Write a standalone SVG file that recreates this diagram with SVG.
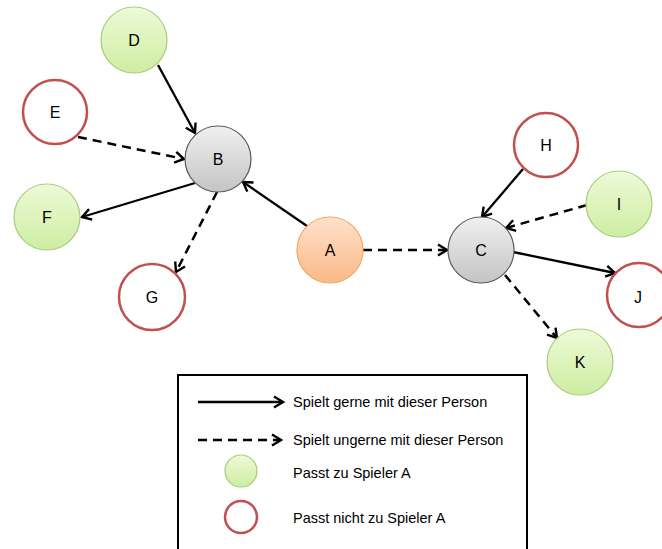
<svg xmlns="http://www.w3.org/2000/svg" width="662" height="549" viewBox="0 0 662 549">
<style>
.lbl{font-family:"Liberation Sans",Arial,sans-serif;font-size:16px;fill:#000;text-anchor:middle;dominant-baseline:central}
.lg{font-family:"Liberation Sans",Arial,sans-serif;font-size:14.5px;fill:#000}
.grey{fill:url(#gGrey);stroke:#5a5a5a;stroke-width:1.2}
.green{fill:url(#gGreen);stroke:#a9cd7c;stroke-width:1.2}
.orange{fill:url(#gOrange);stroke:#f0a868;stroke-width:1.2}
.red{fill:#fff;stroke:#c0504d;stroke-width:2.5}
.solid{stroke:#000;stroke-width:2.3;fill:none;marker-end:url(#arr)}
.dash{stroke:#000;stroke-width:2.5;fill:none;stroke-dasharray:9 6;marker-end:url(#arr)}
</style>
<defs>
<linearGradient id="gGrey" x1="0" y1="0" x2="0" y2="1"><stop offset="0" stop-color="#f0f0f0"/><stop offset="1" stop-color="#c4c4c4"/></linearGradient>
<linearGradient id="gGreen" x1="0" y1="0" x2="0" y2="1"><stop offset="0" stop-color="#eefad8"/><stop offset="1" stop-color="#cdeda2"/></linearGradient>
<linearGradient id="gOrange" x1="0" y1="0" x2="0" y2="1"><stop offset="0" stop-color="#fde2cc"/><stop offset="1" stop-color="#fbb887"/></linearGradient>
<marker id="arr" markerWidth="14" markerHeight="14" refX="11" refY="7" orient="auto" markerUnits="userSpaceOnUse">
<path d="M2,1.5 L11,7 L2,12.5" fill="none" stroke="#000" stroke-width="2.4"/>
</marker>
</defs>
<g id="connectors">
<line class="solid" x1="158" y1="65" x2="195" y2="133"/>
<line class="dash" x1="78" y1="137" x2="184" y2="159"/>
<line class="solid" x1="195" y1="183" x2="82" y2="217"/>
<line class="dash" x1="217" y1="192" x2="176" y2="272"/>
<line class="solid" x1="307" y1="226" x2="243" y2="182"/>
<line class="dash" x1="363" y1="250" x2="447" y2="250"/>
<line class="solid" x1="523" y1="169" x2="482" y2="217"/>
<line class="dash" x1="587" y1="205" x2="506" y2="228"/>
<line class="solid" x1="513" y1="252" x2="615" y2="273"/>
<line class="dash" x1="505" y1="275" x2="557" y2="338"/>
</g>
<g id="node-D"><circle class="green" cx="134" cy="40" r="33"/><text class="lbl" x="134" y="40">D</text></g>
<g id="node-E"><circle class="red" cx="55" cy="112" r="32"/><text class="lbl" x="55" y="112">E</text></g>
<g id="node-B"><circle class="grey" cx="218" cy="159" r="33"/><text class="lbl" x="218" y="159">B</text></g>
<g id="node-F"><circle class="green" cx="47" cy="217" r="33"/><text class="lbl" x="47" y="217">F</text></g>
<g id="node-G"><circle class="red" cx="152" cy="297" r="33"/><text class="lbl" x="152" y="297">G</text></g>
<g id="node-A"><circle class="orange" cx="330" cy="250" r="33"/><text class="lbl" x="330" y="250">A</text></g>
<g id="node-C"><circle class="grey" cx="481" cy="250" r="33"/><text class="lbl" x="481" y="250">C</text></g>
<g id="node-H"><circle class="red" cx="546" cy="145" r="32"/><text class="lbl" x="546" y="145">H</text></g>
<g id="node-I"><circle class="green" cx="619" cy="204" r="33"/><text class="lbl" x="619" y="204">I</text></g>
<g id="node-J"><circle class="red" cx="639" cy="295" r="32"/><text class="lbl" x="638" y="297">J</text></g>
<g id="node-K"><circle class="green" cx="580" cy="362" r="33"/><text class="lbl" x="580" y="362">K</text></g>
<g id="legend">
<rect x="178" y="375" width="349" height="190" fill="#fff" stroke="#000" stroke-width="2"/>
<line class="solid" x1="198" y1="402" x2="283" y2="402"/>
<text class="lg" x="293" y="407">Spielt gerne mit dieser Person</text>
<line class="dash" x1="198" y1="440" x2="281" y2="440"/>
<text class="lg" x="293" y="445">Spielt ungerne mit dieser Person</text>
<circle class="green" cx="241" cy="471" r="16"/>
<text class="lg" x="293" y="478">Passt zu Spieler A</text>
<circle class="red" cx="241" cy="517" r="16"/>
<text class="lg" x="293" y="523">Passt nicht zu Spieler A</text>
</g>
</svg>
